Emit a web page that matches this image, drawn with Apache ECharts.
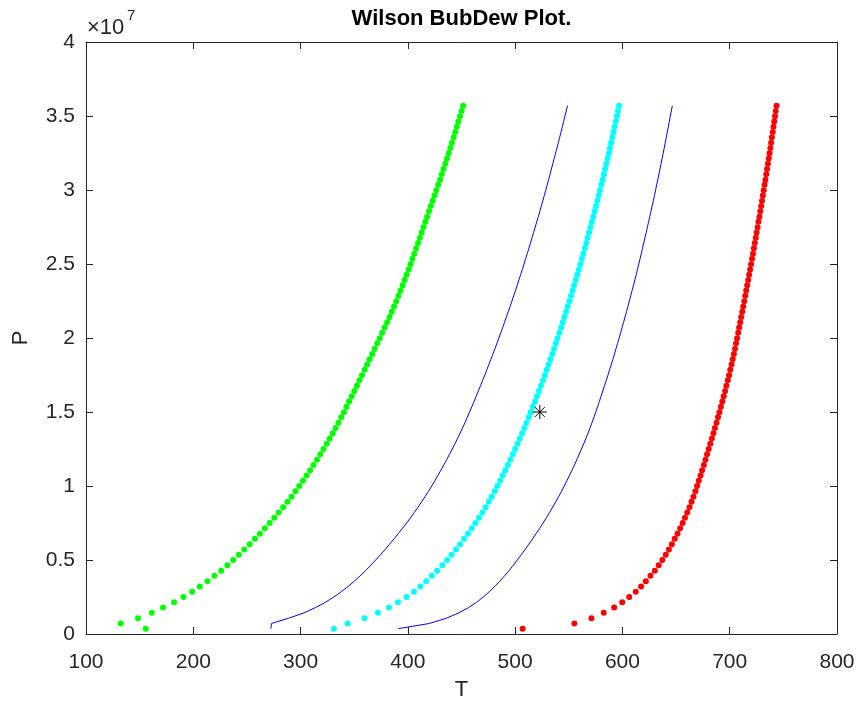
<!DOCTYPE html>
<html>
<head>
<meta charset="utf-8">
<script src="https://cdn.jsdelivr.net/npm/echarts@6/dist/echarts.min.js"></script>
<style>
  html, body { margin: 0; padding: 0; background: #fff; }
  #main { width: 858px; height: 707px; }
</style>
</head>
<body>
<div id="main"></div>
<script>
// pressure levels, MPa (same for every curve)
var pressureMPa = [0.36,0.71,1.07,1.43,1.79,2.14,2.50,2.86,3.21,3.57,3.93,4.28,4.64,5.00,5.36,5.71,6.07,6.43,6.78,7.14,
  7.50,7.85,8.21,8.57,8.93,9.28,9.64,10.00,10.35,10.71,11.07,11.42,11.78,12.14,12.50,12.85,13.21,13.57,13.92,14.28,
  14.64,14.99,15.35,15.71,16.07,16.42,16.78,17.14,17.49,17.85,18.21,18.56,18.92,19.28,19.64,19.99,20.35,20.71,21.06,21.42,
  21.78,22.13,22.49,22.85,23.21,23.56,23.92,24.28,24.63,24.99,25.35,25.70,26.06,26.42,26.78,27.13,27.49,27.85,28.20,28.56,
  28.92,29.27,29.63,29.99,30.35,30.70,31.06,31.42,31.77,32.13,32.49,32.84,33.20,33.56,33.92,34.27,34.63,34.99,35.34,35.70];

// temperatures, K
var greenT = [155.7,132.4,148.5,161.3,171.8,182.1,190.8,198.9,206.1,213.2,219.7,226.0,231.8,237.2,242.4,247.5,252.5,257.4,262.1,266.7,
  271.2,275.5,279.7,283.8,287.8,291.6,295.3,298.8,302.2,305.6,308.9,312.1,315.3,318.4,321.4,324.3,327.2,330.0,332.7,335.3,
  337.9,340.4,342.8,345.2,347.7,350.1,352.5,354.9,357.3,359.7,362.0,364.4,366.8,369.1,371.5,373.8,376.1,378.4,380.7,382.9,
  385.0,387.2,389.2,391.2,393.2,395.1,397.0,398.9,400.7,402.5,404.2,406.0,407.7,409.5,411.2,412.9,414.6,416.3,418.0,419.7,
  421.4,423.2,424.9,426.6,428.3,430.0,431.6,433.2,434.9,436.5,438.0,439.6,441.1,442.7,444.2,445.7,447.1,448.6,450.1,451.5];
var cyanT = [331.1,343.8,359.6,372.1,382.4,390.8,398.8,405.7,411.6,417.1,422.3,427.3,432.1,436.6,440.7,444.8,448.7,452.4,456.1,459.6,
  463.0,466.3,469.5,472.5,475.4,478.2,480.9,483.5,486.0,488.4,490.8,493.2,495.5,497.8,500.0,502.2,504.4,506.5,508.6,510.6,
  512.7,514.6,516.5,518.5,520.3,522.2,524.0,525.9,527.7,529.4,531.2,532.9,534.6,536.3,538.0,539.6,541.2,542.8,544.4,545.9,
  547.5,549.0,550.6,552.1,553.6,555.0,556.5,557.9,559.4,560.8,562.2,563.5,564.9,566.3,567.6,568.9,570.2,571.5,572.8,574.1,
  575.4,576.6,577.9,579.1,580.3,581.5,582.7,583.9,585.0,586.2,587.3,588.4,589.5,590.6,591.7,592.8,593.8,594.8,595.9,596.9];
var redT = [507.0,555.2,571.1,582.6,592.3,599.8,606.3,612.4,617.4,621.8,626.1,630.2,633.8,637.2,640.4,643.3,646.1,648.7,651.3,653.8,
  656.1,658.3,660.4,662.5,664.4,666.2,668.0,669.6,671.2,672.8,674.3,675.9,677.4,678.9,680.4,681.9,683.4,684.8,686.2,687.7,
  689.1,690.4,691.8,693.1,694.4,695.7,696.9,698.2,699.4,700.5,701.7,702.8,703.9,704.9,705.9,706.9,707.9,708.8,709.8,710.7,
  711.7,712.6,713.6,714.5,715.4,716.3,717.2,718.1,719.0,719.9,720.8,721.7,722.5,723.4,724.3,725.1,726.0,726.8,727.7,728.5,
  729.3,730.1,730.9,731.7,732.5,733.3,734.1,734.8,735.6,736.4,737.1,737.9,738.6,739.3,740.1,740.8,741.5,742.2,742.9,743.6];
var bubbleT = [272.3,272.9,289.0,303.3,314.0,323.1,331.0,338.0,344.3,350.1,355.5,360.6,365.4,370.0,374.5,378.8,383.0,387.1,391.1,395.0,
  398.8,402.5,406.0,409.5,412.8,416.0,419.2,422.2,425.1,428.0,430.8,433.5,436.2,438.8,441.4,443.9,446.3,448.7,451.0,453.2,
  455.4,457.5,459.6,461.7,463.7,465.7,467.7,469.7,471.7,473.6,475.5,477.4,479.3,481.2,483.0,484.8,486.6,488.4,490.1,491.9,
  493.6,495.3,497.0,498.6,500.3,501.9,503.5,505.1,506.7,508.2,509.7,511.3,512.8,514.3,515.8,517.2,518.7,520.1,521.6,523.0,
  524.4,525.8,527.2,528.5,529.9,531.2,532.5,533.8,535.1,536.4,537.7,539.0,540.3,541.5,542.8,544.0,545.2,546.4,547.6,548.8];
var dewT = [391.0,420.0,436.0,447.6,456.7,464.0,470.3,475.9,481.0,485.7,490.1,494.3,498.2,502.0,505.7,509.3,512.8,516.3,519.6,522.9,
  526.0,529.1,532.1,535.0,537.8,540.5,543.2,545.7,548.2,550.6,553.0,555.3,557.5,559.7,561.8,563.9,565.9,567.9,569.8,571.6,
  573.4,575.1,576.8,578.5,580.1,581.7,583.3,584.9,586.5,588.0,589.6,591.1,592.6,594.0,595.5,596.9,598.3,599.7,601.1,602.4,
  603.8,605.1,606.4,607.7,609.0,610.3,611.6,612.8,614.0,615.2,616.4,617.6,618.7,619.9,621.0,622.2,623.3,624.4,625.5,626.6,
  627.7,628.8,629.9,630.9,631.9,633.0,634.0,635.0,636.0,637.0,638.0,639.0,639.9,640.9,641.8,642.8,643.7,644.6,645.6,646.5];
var starPoint = [523, 15000000];

var xTicks = [100, 800, 100];
var yTicks = [0, 40000000, 5000000];

function pairs(temps) {
  return temps.map(function (t, i) { return [t, pressureMPa[i] * 1e6]; });
}

var axisColor = '#262626';
var fontFam = 'Liberation Sans, Arial, sans-serif';

var chart = echarts.init(document.getElementById('main'), null, { renderer: 'canvas' });

var boxAxis = {
  axisLine: { show: true, onZero: false, lineStyle: { color: axisColor, width: 1 } },
  axisTick: { show: true, inside: true, length: 7, lineStyle: { color: axisColor } },
  splitLine: { show: false }
};

var option = {
  animation: false,
  backgroundColor: '#ffffff',
  grid: { left: 86, right: 21, top: 42, bottom: 73 },
  graphic: [
    { type: 'text', x: 461.5, y: 8, style: { text: 'Wilson BubDew Plot.', font: 'bold 22px ' + fontFam, fill: '#000', textAlign: 'center' } },
    { type: 'text', x: 87, y: 17, style: { text: '×10', font: '22px ' + fontFam, fill: axisColor } },
    { type: 'text', x: 127, y: 8, style: { text: '7', font: '15px ' + fontFam, fill: axisColor } }
  ],
  xAxis: [
    Object.assign({
      type: 'value', position: 'bottom', min: xTicks[0], max: xTicks[1], interval: xTicks[2],
      name: 'T', nameLocation: 'middle', nameGap: 45,
      nameTextStyle: { fontSize: 22, color: axisColor, fontFamily: fontFam },
      axisLabel: { fontSize: 21, color: axisColor, fontFamily: fontFam, margin: 18 }
    }, boxAxis),
    Object.assign({
      type: 'value', position: 'top', min: xTicks[0], max: xTicks[1], interval: xTicks[2],
      axisLabel: { show: false }
    }, boxAxis)
  ],
  yAxis: [
    Object.assign({
      type: 'value', position: 'left', min: yTicks[0], max: yTicks[1], interval: yTicks[2],
      name: 'P', nameLocation: 'middle', nameGap: 54, nameRotate: 90,
      nameTextStyle: { fontSize: 22, color: axisColor, fontFamily: fontFam },
      axisLabel: {
        fontSize: 21, color: axisColor, fontFamily: fontFam, margin: 11,
        formatter: function (v) { return String(Math.round(v / 1e6) / 10); }
      }
    }, boxAxis),
    Object.assign({
      type: 'value', position: 'right', min: yTicks[0], max: yTicks[1], interval: yTicks[2],
      axisLabel: { show: false }
    }, boxAxis)
  ],
  series: [
    { name: 'green', type: 'scatter', data: pairs(greenT), symbolSize: 6, itemStyle: { color: '#00ff00', opacity: 1 } },
    { name: 'cyan', type: 'scatter', data: pairs(cyanT), symbolSize: 6, itemStyle: { color: '#00ffff', opacity: 1 } },
    { name: 'red', type: 'scatter', data: pairs(redT), symbolSize: 6, itemStyle: { color: '#ff0000', opacity: 1 } },
    { name: 'bubble', type: 'line', data: pairs(bubbleT), showSymbol: false, lineStyle: { color: '#0000ff', width: 1 } },
    { name: 'dew', type: 'line', data: pairs(dewT), showSymbol: false, lineStyle: { color: '#0000ff', width: 1 } },
    {
      name: 'point', type: 'scatter', data: [starPoint], symbolSize: 14,
      symbol: 'path://M0,-10L0,10M-10,0L10,0M-7,-7L7,7M-7,7L7,-7',
      itemStyle: { color: 'none', borderColor: '#000', borderWidth: 1, opacity: 1 }
    }
  ]
};

chart.setOption(option);
</script>
</body>
</html>
